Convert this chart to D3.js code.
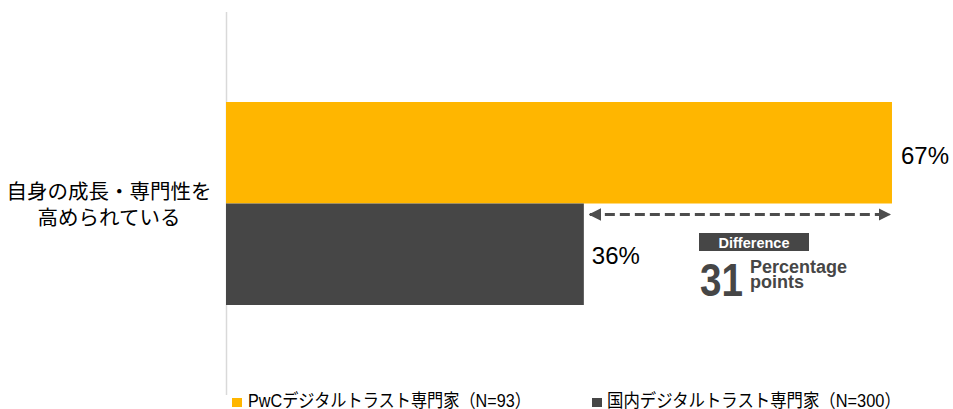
<!DOCTYPE html>
<html>
<head>
<meta charset="utf-8">
<script src="https://cdn.jsdelivr.net/npm/d3@7"></script>
<style>
  html, body { margin: 0; padding: 0; background: #fff; }
  svg { display: block; font-family: "Liberation Sans", Arial, "Noto Sans CJK JP", sans-serif; }
</style>
</head>
<body>
<div id="chart"></div>
<script>
// data
const categories = ["自身の成長・専門性を高められている"];
const categoryLines = [["自身の成長・専門性を", "高められている"]];
const seriesNames = ["PwCデジタルトラスト専門家（N=93）", "国内デジタルトラスト専門家（N=300）"];
const seriesValues = [[67], [36]];
const seriesColors = ["#FFB600", "#464646"];
const differenceLabel = "Difference";
const differenceUnit = ["Percentage", "points"];

const W = 953, H = 409;
const margin = { top: 12, right: 0, bottom: 14, left: 226 };

const svg = d3.select("#chart").append("svg")
    .attr("width", W)
    .attr("height", H);

// x: percent -> px (about 9.94 px per point)
const x = d3.scaleLinear().domain([0, 100]).range([margin.left, margin.left + 994]);

// one band per category, bars split inside
const yCat = d3.scaleBand().domain(categories).range([margin.top, H - margin.bottom]);
const ySub = d3.scaleBand().domain(seriesNames).range([90, 293]).padding(0);

// axis line
svg.append("line")
    .attr("x1", x(0) + 0.5).attr("x2", x(0) + 0.5)
    .attr("y1", margin.top).attr("y2", 395)
    .attr("stroke", "#d9d9d9").attr("stroke-width", 1.5);

// bars
const bars = [];
categories.forEach((c, ci) => {
    seriesNames.forEach((s, si) => bars.push({ cat: c, ci: ci, s: s, si: si, v: seriesValues[si][ci] }));
});

const barTop = d => yCat(d.cat) + ySub(d.s);

svg.selectAll("rect.bar")
    .data(bars)
    .join("rect")
    .attr("class", "bar")
    .attr("x", x(0))
    .attr("y", barTop)
    .attr("width", d => x(d.v) - x(0))
    .attr("height", ySub.bandwidth())
    .attr("fill", d => seriesColors[d.si]);

// value labels
svg.selectAll("text.val")
    .data(bars)
    .join("text")
    .attr("class", "val")
    .attr("x", d => x(d.v) + (d.si === 0 ? 9 : 8))
    .attr("y", d => barTop(d) + ySub.bandwidth() / 2 + (d.si === 0 ? 11 : 10))
    .attr("font-size", 24)
    .attr("fill", "#000")
    .text(d => d.v + "%");

// category label
categories.forEach((c, ci) => {
    const t = svg.append("text")
        .attr("text-anchor", "middle")
        .attr("font-family", "'Noto Sans CJK JP', sans-serif")
        .attr("font-size", 20.5)
        .attr("fill", "#000");
    categoryLines[ci].forEach((line, li) => {
        t.append("tspan")
            .attr("x", 109)
            .attr("y", 199 + li * 26)
            .text(line);
    });
});

// difference arrow
const hi = bars[0], lo = bars[1];
const diff = hi.v - lo.v;
const arrowY = barTop(lo) + 11;

const defs = svg.append("defs");
defs.append("marker")
    .attr("id", "arrowhead")
    .attr("viewBox", "0 0 10 10")
    .attr("refX", 9).attr("refY", 5)
    .attr("markerWidth", 4.2).attr("markerHeight", 4.2)
    .attr("orient", "auto-start-reverse")
    .append("path")
    .attr("d", "M0,0 L10,5 L0,10 Z")
    .attr("fill", "#4d4d4d");

svg.append("line")
    .attr("x1", x(lo.v) + 6).attr("x2", x(hi.v) - 2)
    .attr("y1", arrowY).attr("y2", arrowY)
    .attr("stroke", "#4d4d4d")
    .attr("stroke-width", 3)
    .attr("stroke-dasharray", "10,5")
    .attr("marker-start", "url(#arrowhead)")
    .attr("marker-end", "url(#arrowhead)");

// difference box
const boxX = 699, boxY = 233;
svg.append("rect")
    .attr("x", boxX).attr("y", boxY)
    .attr("width", 110).attr("height", 18)
    .attr("fill", "#464646");
svg.append("text")
    .attr("x", boxX + 55).attr("y", boxY + 14.5)
    .attr("text-anchor", "middle")
    .attr("font-size", 14.5).attr("font-weight", "bold")
    .attr("fill", "#fff")
    .text(differenceLabel);

svg.append("text")
    .attr("x", boxX + 1).attr("y", 296)
    .attr("font-size", 47).attr("font-weight", "bold")
    .attr("textLength", 43).attr("lengthAdjust", "spacingAndGlyphs")
    .attr("fill", "#464646")
    .text(diff);

const unit = svg.append("text")
    .attr("font-size", 18).attr("font-weight", "bold")
    .attr("fill", "#464646");
differenceUnit.forEach((u, i) => {
    unit.append("tspan").attr("x", 750).attr("y", 273 + i * 15).text(u);
});

// legend
const legendX = [232, 592];
const legendW = [283, 294];
const lg = svg.selectAll("g.legend")
    .data(seriesNames)
    .join("g")
    .attr("class", "legend")
    .attr("transform", (d, i) => `translate(${legendX[i]},398)`);
lg.append("rect")
    .attr("width", 10).attr("height", 9)
    .attr("fill", (d, i) => seriesColors[i]);
lg.append("text")
    .attr("y", 9)
    .attr("font-family", "'Liberation Sans', Arial, 'Noto Sans CJK JP', sans-serif")
    .attr("font-size", 18)
    .attr("fill", "#000")
    .text(d => d)
    .each(function(d, i) {
        // squeeze the text horizontally to the reference width
        const len = this.getComputedTextLength();
        const dx = i === 0 ? 16 : 15;
        d3.select(this).attr("transform", `translate(${dx},0) scale(${legendW[i] / len},1)`);
    });
</script>
</body>
</html>
